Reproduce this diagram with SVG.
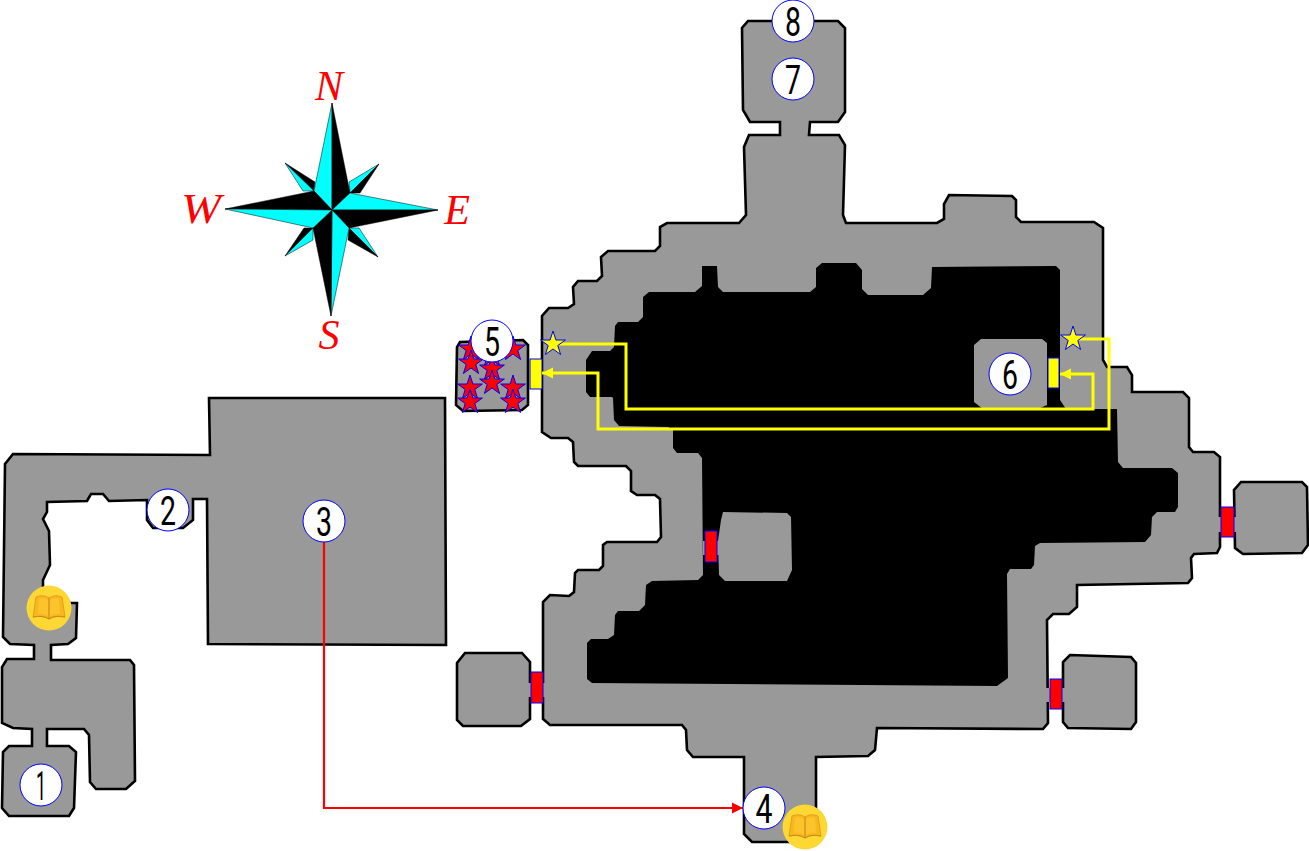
<svg xmlns="http://www.w3.org/2000/svg" xmlns:xlink="http://www.w3.org/1999/xlink" width="1309" height="851" viewBox="0 0 1309 851">
<style>
.wall{fill:#999;stroke:#000;stroke-width:2.600;stroke-linejoin:miter}
.void{fill:#000}
.isle{fill:#999}
.gap{fill:#999}
.reddoor{fill:#f00;stroke:#00f;stroke-width:1}
.yeldoor{fill:#ff0;stroke:#00f;stroke-width:1}
.badge{fill:#fff;stroke:#00f;stroke-width:1}
.num{font-family:Roboto,"Liberation Sans",sans-serif;font-weight:400;font-size:41px;fill:#000;text-anchor:middle}
.dir{font-family:"Liberation Serif",serif;font-style:italic;font-size:42px;fill:#f00;text-anchor:middle}
.link{fill:none;stroke:#f00;stroke-width:2.200}
.ylink{fill:none;stroke:#ff0;stroke-width:3}
.c{fill:#0ff;stroke:#000;stroke-width:.5}
.k{fill:#000;stroke:#000;stroke-width:.5}
.rs{fill:#f00;stroke:#00f;stroke-width:1}
.ys{fill:#ff0;stroke:#00f;stroke-width:1}
</style>
<defs>
<polygon id="star" points="0,-13 2.900,-4 12.400,-4 4.800,1.500 7.600,10.500 0,5 -7.600,10.500 -4.800,1.500 -12.400,-4 -2.900,-4"/>
<marker id="ah" markerUnits="userSpaceOnUse" markerWidth="12" markerHeight="12" refX="11" refY="6" orient="auto"><path d="M0,0.500 L11,6 L0,11.500 Z" fill="#f00"/></marker>
<marker id="ay" markerUnits="userSpaceOnUse" markerWidth="12" markerHeight="14" refX="11" refY="7" orient="auto"><path d="M0,1.500 L11,7 L0,12.500 Z" fill="#ff0"/></marker>
<g id="coin">
<circle r="22.500" fill="#fdd835"/>
<path d="M-16,9 L-13,-11 Q-6,-14 0,-10 Q6,-14 13,-11 L16,9 Q6,7 0,11 Q-6,7 -16,9 Z" fill="#f9b71e" stroke="#e0a020" stroke-width="1"/>
<path d="M-10,-9 L-11,6 Q-5,5 -1,8 L-1,-8 Q-5,-11 -10,-9 Z M10,-9 L11,6 Q5,5 1,8 L1,-8 Q5,-11 10,-9 Z" fill="#fcc42c"/>
<path d="M0,-10 L0,11 M-16,9 Q-6,7 0,11 Q6,7 16,9" fill="none" stroke="#c98a1a" stroke-width="1"/>
</g>
</defs>

<g id="compass">
<polygon class="c" points="379,164 349,182 350,193"/>
<polygon class="k" points="379,164 360,193 350,193"/>
<polygon class="k" points="285,163 315,182 314,191"/>
<polygon class="c" points="285,163 303,191 314,191"/>
<polygon class="c" points="378,257 359,228 349,228"/>
<polygon class="k" points="378,257 348,240 349,228"/>
<polygon class="k" points="285,256 304,228 313,228"/>
<polygon class="c" points="285,256 313,240 313,228"/>
<polygon class="c" points="332,103 314,191 332,210"/>
<polygon class="k" points="332,103 350,193 332,210"/>
<polygon class="c" points="438,210 350,193 332,210"/>
<polygon class="k" points="438,210 349,228 332,210"/>
<polygon class="c" points="331,316 349,228 332,210"/>
<polygon class="k" points="331,316 313,228 332,210"/>
<polygon class="k" points="225,209 314,191 332,210"/>
<polygon class="c" points="225,209 313,228 332,210"/>
<text class="dir" x="329" y="100">N</text>
<text class="dir" x="201" y="223" textLength="40" lengthAdjust="spacingAndGlyphs">W</text>
<text class="dir" x="457" y="224">E</text>
<text class="dir" x="329" y="349">S</text>
</g>

<g id="west-dungeon">
<path class="wall" d="M13,454 L210,455 L209,398 L445,398 L446,645 L208,644 L207,499 L193,499 L193,520 L183,528 L153,528 L147,520 L147,500 L109,501 L103,494 L91,494 L87,501 L47,502 L47,512 L43,519 L49,531 L50,565 L43,580 L43,603 L77,603 L76,638 L68,644 L51,645 L51,660 L130,660 L134,665 L135,781 L126,789 L96,789 L90,782 L89,735 L84,729 L47,729 L47,746 L69,746 L76,752 L74,808 L69,816 L9,816 L2,808 L3,752 L9,746 L32,746 L32,729 L13,728 L2,723 L2,667 L7,659 L34,659 L34,645 L10,644 L3,637 L5,464 Z"/>
</g>

<g id="main-dungeon">
<path class="wall" d="M748,21 L838,21 L845,28 L845,112 L838,122 L810,122 L809,135 L839,135 L845,145 L843,215 L846,223 L937,223 L944,219 L944,204 L949,195 L1012,196 L1016,200 L1016,217 L1021,222 L1094,222 L1103,228 L1103,360 L1107,367 L1127,367 L1132,375 L1132,392 L1183,392 L1189,398 L1189,447 L1193,452 L1214,452 L1220,457 L1220,547 L1217,553 L1194,554 L1191,558 L1192,578 L1188,583 L1077,585 L1077,607 L1069,614 L1053,614 L1047,620 L1048,723 L1043,729 L877,728 L875,750 L868,756 L816,757 L816,830 L806,842 L752,842 L744,834 L744,757 L693,757 L687,750 L686,730 L682,725 L550,725 L543,719 L543,602 L550,595 L569,596 L574,592 L575,573 L578,570 L599,570 L603,566 L603,545 L607,542 L657,542 L661,537 L660,499 L655,495 L637,495 L631,491 L631,471 L626,466 L578,466 L574,462 L573,442 L568,438 L551,438 L542,432 L542,316 L549,308 L568,308 L574,304 L573,287 L578,281 L597,281 L602,276 L601,257 L608,251 L655,251 L660,246 L660,227 L667,223 L739,223 L746,215 L744,147 L749,135 L780,135 L780,122 L750,122 L743,110 L742,28 Z"/>
<path class="void" d="M702,266 L717,266 L718,287 L723,292 L810,292 L816,287 L816,268 L822,263 L856,263 L862,270 L862,289 L868,295 L923,295 L931,288 L932,267 L1056,266 L1060,270 L1060,400 L1066,409 L1117,409 L1118,462 L1123,468 L1172,468 L1178,473 L1178,507 L1175,512 L1157,512 L1152,517 L1151,535 L1145,542 L1040,543 L1035,546 L1034,565 L1031,569 L1010,569 L1007,574 L1008,678 L997,686 L592,683 L587,679 L587,643 L591,639 L608,639 L614,635 L615,615 L618,611 L639,611 L645,605 L646,585 L652,581 L698,580 L703,575 L702,458 L698,453 L677,453 L673,448 L673,430 L668,427 L619,426 L614,420 L613,398 L612,397 L590,397 L586,392 L586,360 L592,351 L610,351 L614,347 L615,326 L618,322 L638,322 L643,317 L643,297 L649,292 L695,292 L702,286 Z"/>
<polygon class="isle" points="981,339 1042,339 1047,343 1047,405 1038,409 983,409 974,402 974,345"/>
<polygon class="isle" points="723,512 787,513 791,517 792,570 787,581 725,581 719,575 718,541 721,520"/>
</g>

<g id="side-rooms">
<polygon class="wall" points="465,653 522,653 530,662 530,719 521,726 463,726 457,720 457,663"/>
<polygon class="wall" points="1241,482 1302,482 1307,487 1308,545 1302,553 1243,554 1235,548 1234,490"/>
<polygon class="wall" points="1070,655 1131,657 1136,663 1136,722 1131,729 1068,728 1063,722 1063,662"/>
<polygon class="wall" points="460,342 523,340 528,345 528,405 522,410 463,411 456,405 457,347"/>
<rect class="gap" x="527" y="683" width="19" height="14"/>
<rect class="gap" x="1218" y="517" width="19" height="15"/>
<rect class="gap" x="1045" y="688" width="20" height="14"/>
<rect class="gap" x="703" y="541" width="17" height="14"/>
</g>

<g id="doors">
<rect class="reddoor" x="705" y="531" width="12" height="31"/>
<rect class="reddoor" x="531" y="672" width="12" height="31"/>
<rect class="reddoor" x="1221" y="507" width="13" height="30"/>
<rect class="reddoor" x="1050" y="679" width="12" height="30"/>
<rect class="yeldoor" x="530" y="359" width="12" height="30"/>
<rect class="yeldoor" x="1048" y="358" width="11" height="30"/>
</g>

<g id="connectors">
<path class="link" d="M324,542 L324,808 L743,808" marker-end="url(#ah)"/>
<path class="ylink" d="M553,344 L626,344 L626,409 L1093,409 L1093,374 L1060,374" marker-end="url(#ay)"/>
<path class="ylink" d="M1073,339 L1109,339 L1109,429 L598,429 L598,373 L542,373" marker-end="url(#ay)"/>
</g>

<g id="stars">
<use href="#star" class="rs" x="513" y="349"/>
<use href="#star" class="rs" x="471" y="349"/>
<use href="#star" class="rs" x="492" y="355"/>
<use href="#star" class="rs" x="471" y="363"/>
<use href="#star" class="rs" x="492" y="369"/>
<use href="#star" class="rs" x="470" y="388"/>
<use href="#star" class="rs" x="513" y="388"/>
<use href="#star" class="rs" x="492" y="383"/>
<use href="#star" class="rs" x="470" y="402"/>
<use href="#star" class="rs" x="513" y="402"/>
<use href="#star" class="ys" x="553" y="344"/>
<use href="#star" class="ys" x="1073" y="339"/>
</g>

<g id="node-1"><circle class="badge" cx="41" cy="785" r="21"/><text class="num" x="41" y="800" textLength="10" lengthAdjust="spacingAndGlyphs">1</text></g>
<g id="node-2"><circle class="badge" cx="168" cy="510" r="21"/><text class="num" x="168" y="525" textLength="16" lengthAdjust="spacingAndGlyphs">2</text></g>
<g id="node-3"><circle class="badge" cx="324" cy="521" r="21"/><text class="num" x="324" y="536" textLength="16" lengthAdjust="spacingAndGlyphs">3</text></g>
<g id="node-4"><circle class="badge" cx="764" cy="808" r="21"/><text class="num" x="764" y="823" textLength="17" lengthAdjust="spacingAndGlyphs">4</text></g>
<g id="node-5"><circle class="badge" cx="492" cy="341" r="21"/><text class="num" x="492" y="356" textLength="16" lengthAdjust="spacingAndGlyphs">5</text></g>
<g id="node-6"><circle class="badge" cx="1010" cy="374" r="21"/><text class="num" x="1010" y="389" textLength="16" lengthAdjust="spacingAndGlyphs">6</text></g>
<g id="node-7"><circle class="badge" cx="793" cy="79" r="21"/><text class="num" x="793" y="94" textLength="16" lengthAdjust="spacingAndGlyphs">7</text></g>
<g id="node-8"><circle class="badge" cx="793" cy="21" r="21"/><text class="num" x="793" y="36" textLength="16" lengthAdjust="spacingAndGlyphs">8</text></g>
<g id="book-a"><use href="#coin" x="49" y="608"/></g>
<g id="book-b"><use href="#coin" x="805" y="827"/></g>
</svg>
